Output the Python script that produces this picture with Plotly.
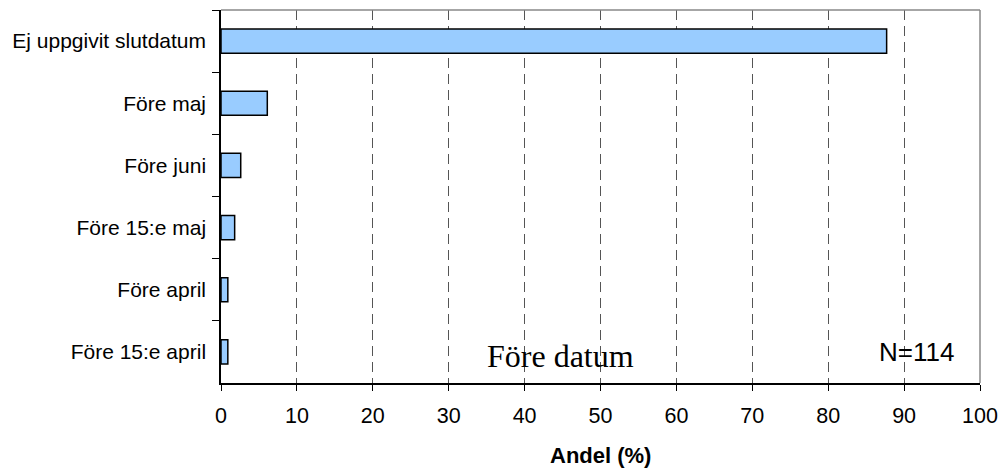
import plotly.graph_objects as go

categories = ["Ej uppgivit slutdatum", "Före maj", "Före juni", "Före 15:e maj", "Före april", "Före 15:e april"]
values = [87.7, 6.1, 2.6, 1.8, 0.9, 0.9]
x_ticks = [0, 10, 20, 30, 40, 50, 60, 70, 80, 90, 100]
series_name = "Före datum"
n_label = "N=114"
x_title = "Andel (%)"

fig = go.Figure()
fig.add_trace(go.Bar(
    y=categories, x=values, orientation="h", width=0.39,
    marker=dict(color="#99CCFF", line=dict(color="black", width=1.5)),
    name=series_name, showlegend=False,
))

fig.update_layout(
    width=1008, height=472,
    margin=dict(l=221, r=23, t=10, b=89),
    paper_bgcolor="white", plot_bgcolor="white",
    font=dict(family="Liberation Sans, Arial, sans-serif", size=21, color="black"),
)
fig.update_xaxes(
    range=[0, 100], tickvals=x_ticks, ticktext=[str(v) for v in x_ticks],
    showgrid=True, gridcolor="#555555", griddash="10px,6px", gridwidth=1,
    showline=True, linecolor="black", linewidth=1.5,
    ticks="outside", ticklen=6, tickcolor="black", tickwidth=1,
    ticklabelstandoff=6, zeroline=False,
    tickfont=dict(size=21.5),
)
fig.update_yaxes(
    categoryorder="array", categoryarray=categories, autorange="reversed",
    showline=True, linecolor="black", linewidth=1.5,
    ticks="outside", ticklen=7, tickcolor="black", tickson="boundaries",
    showgrid=False, ticklabelstandoff=9,
    tickfont=dict(size=21),
)
# gray top/right border
fig.add_shape(type="line", xref="paper", yref="paper", x0=0, x1=1, y0=1, y1=1,
              line=dict(color="#888888", width=1.5))
fig.add_shape(type="line", xref="paper", yref="paper", x0=1, x1=1, y0=0, y1=1,
              line=dict(color="#888888", width=1.5))

fig.add_annotation(text=series_name, xref="paper", yref="paper", x=0.447, y=0.072,
                   showarrow=False, font=dict(family="Liberation Serif, Times New Roman, serif", size=32, color="black"),
                   xanchor="center", yanchor="middle")
fig.add_annotation(text=n_label, xref="paper", yref="paper", x=0.916, y=0.083,
                   showarrow=False, font=dict(size=26, color="black"),
                   xanchor="center", yanchor="middle")
fig.add_annotation(text="<b>" + x_title + "</b>", xref="paper", yref="paper", x=0.5, y=-0.195,
                   showarrow=False, font=dict(size=22, color="black"),
                   xanchor="center", yanchor="middle")

fig.write_html("out.html")
